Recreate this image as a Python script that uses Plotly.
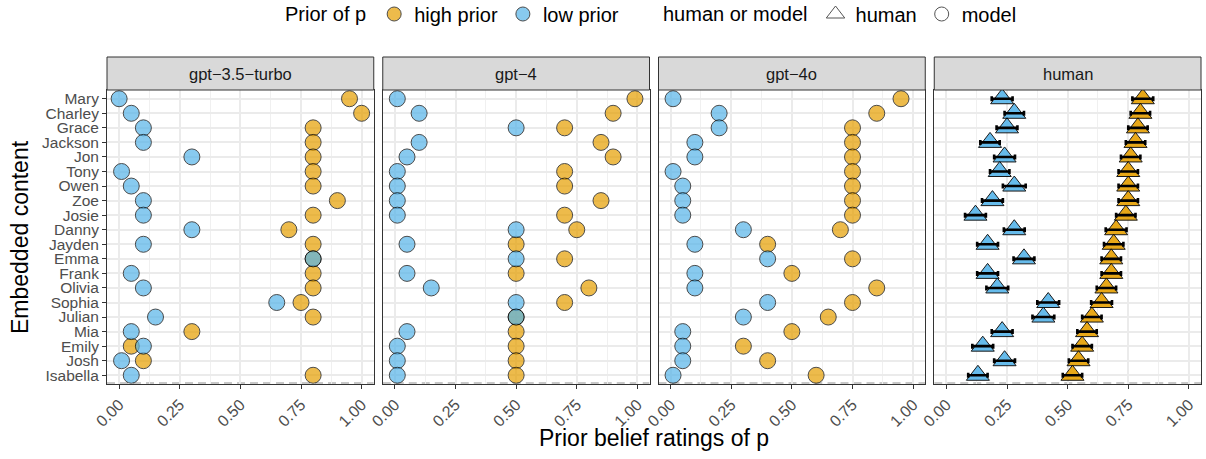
import plotly.graph_objects as go

# ---------------- data ----------------
names = ["Mary", "Charley", "Grace", "Jackson", "Jon", "Tony", "Owen", "Zoe", "Josie", "Danny",
         "Jayden", "Emma", "Frank", "Olivia", "Sophia", "Julian", "Mia", "Emily", "Josh", "Isabella"]

gpt35_low  = [0.00, 0.05, 0.10, 0.10, 0.30, 0.01, 0.05, 0.10, 0.10, 0.30,
              0.10, 0.80, 0.05, 0.10, 0.65, 0.15, 0.05, 0.10, 0.01, 0.05]
gpt35_high = [0.95, 1.00, 0.80, 0.80, 0.80, 0.80, 0.80, 0.90, 0.80, 0.70,
              0.80, 0.80, 0.80, 0.80, 0.75, 0.80, 0.30, 0.05, 0.10, 0.80]

gpt4_low  = [0.01, 0.10, 0.50, 0.10, 0.05, 0.01, 0.01, 0.01, 0.01, 0.50,
             0.05, 0.50, 0.05, 0.15, 0.50, 0.50, 0.05, 0.01, 0.01, 0.01]
gpt4_high = [0.99, 0.90, 0.70, 0.85, 0.90, 0.70, 0.70, 0.85, 0.70, 0.75,
             0.50, 0.70, 0.50, 0.80, 0.70, 0.50, 0.50, 0.50, 0.50, 0.50]

gpt4o_low  = [0.01, 0.20, 0.20, 0.10, 0.10, 0.01, 0.05, 0.05, 0.05, 0.30,
              0.10, 0.40, 0.10, 0.10, 0.40, 0.30, 0.05, 0.05, 0.05, 0.01]
gpt4o_high = [0.95, 0.85, 0.75, 0.75, 0.75, 0.75, 0.75, 0.75, 0.75, 0.70,
              0.40, 0.75, 0.50, 0.85, 0.75, 0.65, 0.50, 0.30, 0.40, 0.60]

human_low  = [0.23, 0.28, 0.25, 0.18, 0.24, 0.22, 0.28, 0.19, 0.12, 0.28,
              0.17, 0.32, 0.17, 0.21, 0.42, 0.40, 0.23, 0.15, 0.24, 0.13]
human_high = [0.81, 0.80, 0.79, 0.78, 0.76, 0.75, 0.75, 0.75, 0.74, 0.70,
              0.69, 0.68, 0.68, 0.66, 0.64, 0.60, 0.58, 0.56, 0.545, 0.52]
human_low_err  = [0.043, 0.040, 0.043, 0.040, 0.043, 0.040, 0.047, 0.043, 0.043, 0.043,
                  0.043, 0.043, 0.043, 0.045, 0.045, 0.045, 0.043, 0.043, 0.043, 0.040]
human_high_err = [0.043, 0.040, 0.040, 0.040, 0.040, 0.040, 0.040, 0.040, 0.040, 0.043,
                  0.040, 0.040, 0.040, 0.040, 0.043, 0.040, 0.040, 0.040, 0.040, 0.040]

panels = ["gpt\u22123.5\u2212turbo", "gpt\u22124", "gpt\u22124o", "human"]
x_ticks = [0, 0.25, 0.5, 0.75, 1.0]
x_tick_labels = ["0.00", "0.25", "0.50", "0.75", "1.00"]

HIGH = "#E69F00"
LOW = "#56B4E9"
FONT = "Liberation Sans, Arial, sans-serif"

fig = go.Figure()

model_data = [(gpt35_low, gpt35_high), (gpt4_low, gpt4_high), (gpt4o_low, gpt4o_high)]
for i, (lo, hi) in enumerate(model_data):
    xa = "x" if i == 0 else f"x{i+1}"
    ya = "y" if i == 0 else f"y{i+1}"
    for vals, col in [(hi, HIGH), (lo, LOW)]:
        fig.add_trace(go.Scatter(
            x=vals, y=names, mode="markers", xaxis=xa, yaxis=ya, showlegend=False,
            marker=dict(symbol="circle", size=16, color=col, opacity=0.7,
                        line=dict(color="black", width=1)),
            hoverinfo="x+y"))

# human panel
for vals, col in [(human_high, HIGH), (human_low, LOW)]:
    fig.add_trace(go.Scatter(
        x=vals, y=names, mode="markers", xaxis="x4", yaxis="y4", showlegend=False,
        marker=dict(symbol="triangle-up", size=20, color=col, opacity=0.9,
                    line=dict(color="black", width=1))))
for vals, err in [(human_high, human_high_err), (human_low, human_low_err)]:
    fig.add_trace(go.Scatter(
        x=vals, y=names, mode="markers", xaxis="x4", yaxis="y4", showlegend=False,
        marker=dict(size=2, opacity=0),
        error_x=dict(type="data", array=err, color="black", thickness=2.6, width=2.5),
        hoverinfo="skip"))

# legend entries
fig.add_trace(go.Scatter(x=[None], y=[None], mode="markers", name="high prior", legend="legend",
                         marker=dict(symbol="circle", size=14, color=HIGH, opacity=0.7,
                                     line=dict(color="black", width=1))))
fig.add_trace(go.Scatter(x=[None], y=[None], mode="markers", name="low prior", legend="legend",
                         marker=dict(symbol="circle", size=14, color=LOW, opacity=0.7,
                                     line=dict(color="black", width=1))))
fig.add_trace(go.Scatter(x=[None], y=[None], mode="markers", name="human", legend="legend2",
                         marker=dict(symbol="triangle-up", size=18, color="white",
                                     line=dict(color="#555555", width=1))))
fig.add_trace(go.Scatter(x=[None], y=[None], mode="markers", name="model", legend="legend2",
                         marker=dict(symbol="circle", size=14, color="white",
                                     line=dict(color="#555555", width=1))))

W, H = 1206, 459
ML, MR, MT, MB = 107, 5, 90, 75
pw = W - ML - MR
ph = H - MT - MB
gap = 9
panel_w = (pw - 3 * gap) / 4

axis_common = dict(
    showline=True, linecolor="#333333", linewidth=1, mirror=True,
    ticks="outside", ticklen=4, tickcolor="#333333", tickwidth=1,
    showgrid=True, gridcolor="#EBEBEB", gridwidth=1.5, zeroline=False,
)

layout = dict(
    width=W, height=H, margin=dict(l=ML, r=MR, t=MT, b=MB, autoexpand=False),
    paper_bgcolor="white", plot_bgcolor="white",
    font=dict(family=FONT, color="#4D4D4D"),
    shapes=[], annotations=[],
)

for i in range(4):
    d0 = (i * (panel_w + gap)) / pw
    d1 = (i * (panel_w + gap) + panel_w) / pw
    xkey = "xaxis" if i == 0 else f"xaxis{i+1}"
    ykey = "yaxis" if i == 0 else f"yaxis{i+1}"
    xref = "x" if i == 0 else f"x{i+1}"
    layout[xkey] = dict(
        domain=[d0, d1], anchor="y" if i == 0 else f"y{i+1}",
        range=[-0.05, 1.05], tickvals=x_ticks, ticktext=x_tick_labels,
        tickangle=-45, tickfont=dict(size=16, color="#4D4D4D", family=FONT),
        minor=dict(dtick=0.125, tick0=0, showgrid=True, gridcolor="#F0F0F0", gridwidth=1, ticks=""),
        **axis_common)
    ydict = dict(
        domain=[0, 1], anchor=xref, type="category",
        categoryorder="array", categoryarray=names[::-1], range=[-0.6, len(names) - 0.4],
        tickmode="array", tickvals=names, ticktext=names,
        showticklabels=(i == 0),
        tickfont=dict(size=15.5, color="#4D4D4D", family=FONT),
        **axis_common)
    if i > 0:
        ydict["matches"] = "y"
        ydict["ticks"] = ""
    layout[ykey] = ydict
    # strip
    layout["shapes"].append(dict(
        type="rect", xref=f"{xref} domain", yref="paper",
        x0=0, x1=1, y0=1, y1=1 + 33 / ph,
        fillcolor="#D9D9D9", line=dict(color="#333333", width=1), layer="above"))
    layout["annotations"].append(dict(
        text=panels[i], xref=f"{xref} domain", yref="paper", x=0.5, y=1 + 16.5 / ph,
        showarrow=False, xanchor="center", yanchor="middle",
        font=dict(size=16.5, color="#1A1A1A", family=FONT)))
    # dashed baseline
    layout["shapes"].append(dict(
        type="line", xref=xref, yref="y" if i == 0 else f"y{i+1}",
        x0=-0.05, x1=1.05, y0=-0.53, y1=-0.53,
        line=dict(color="#C8C8C8", width=2, dash="8px,5px"), layer="below"))

layout["annotations"].append(dict(
    text="Prior belief ratings of p", xref="paper", yref="paper",
    x=0.5, y=-(438 - (MT + ph)) / ph, showarrow=False, xanchor="center", yanchor="middle",
    font=dict(size=23, color="black", family=FONT)))
layout["annotations"].append(dict(
    text="Embedded content", xref="paper", yref="paper", textangle=-90,
    x=(20 - ML) / pw, y=0.5, showarrow=False, xanchor="center", yanchor="middle",
    font=dict(size=23, color="black", family=FONT)))

leg_y = 1 + (MT - 14) / ph
layout["legend"] = dict(
    orientation="h", x=(283 - ML) / pw, xanchor="left", y=leg_y, yanchor="middle",
    title=dict(text="Prior of p", font=dict(size=20, color="black", family=FONT), side="left"),
    font=dict(size=20, color="black", family=FONT), bgcolor="rgba(0,0,0,0)", itemwidth=30)
layout["legend2"] = dict(
    orientation="h", x=(661 - ML) / pw, xanchor="left", y=leg_y, yanchor="middle",
    title=dict(text="human or model", font=dict(size=20, color="black", family=FONT), side="left"),
    font=dict(size=20, color="black", family=FONT), bgcolor="rgba(0,0,0,0)", itemwidth=30)

fig.update_layout(**layout)
fig.write_html("out.html")
